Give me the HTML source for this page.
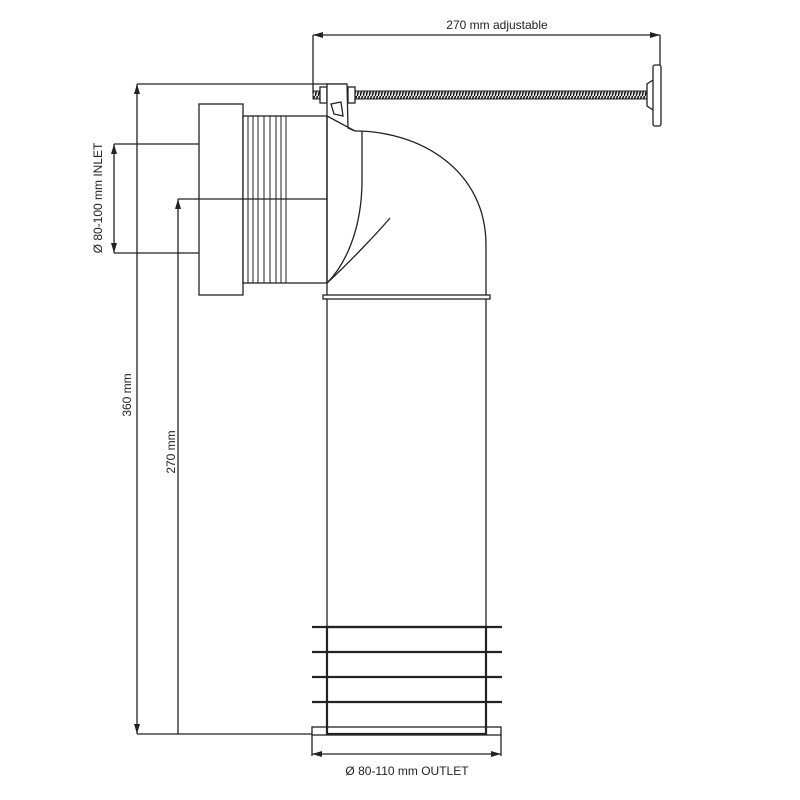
<!DOCTYPE html>
<html><head><meta charset="utf-8"><style>body{margin:0;background:#fff}svg{display:block}text{font-family:"Liberation Sans",sans-serif;font-size:12px;fill:#222}</style></head><body>
<svg width="800" height="800" viewBox="0 0 800 800" xmlns="http://www.w3.org/2000/svg">
<defs>
<pattern id="thr" width="3" height="8" patternUnits="userSpaceOnUse"><rect width="3" height="8" fill="#ddd"/><line x1="0" y1="8" x2="2.5" y2="0" stroke="#111" stroke-width="1.5"/></pattern>
<marker id="a" viewBox="0 0 10 6" refX="10" refY="3" markerWidth="10" markerHeight="6" orient="auto-start-reverse" markerUnits="userSpaceOnUse"><path d="M0,0 L10,3 L0,6z" fill="#222"/></marker>
</defs>
<g stroke="#222" stroke-width="1.3" fill="none">
<line x1="313" y1="35" x2="660" y2="35" marker-start="url(#a)" marker-end="url(#a)"/>
<line x1="313" y1="35" x2="313" y2="93"/>
<line x1="660" y1="35" x2="660" y2="66"/>
<rect x="313" y="91" width="340" height="8" fill="url(#thr)" stroke="#222" stroke-width="1"/>
<rect x="320" y="87" width="7" height="16" fill="#fff"/>
<rect x="348" y="87" width="7" height="16" fill="#fff"/>
<path d="M653,80 L647,84 L647,106 L653,110" fill="#fff"/>
<rect x="653" y="65" width="8" height="61" rx="2" fill="#fff"/>
<line x1="137" y1="84" x2="137" y2="734" marker-start="url(#a)" marker-end="url(#a)"/>
<line x1="137" y1="84" x2="347" y2="84"/>
<line x1="137" y1="734" x2="312" y2="734"/>
<line x1="114" y1="144" x2="114" y2="253" marker-start="url(#a)" marker-end="url(#a)"/>
<line x1="114" y1="144" x2="199" y2="144"/>
<line x1="114" y1="253" x2="199" y2="253"/>
<line x1="178" y1="199" x2="178" y2="734" marker-start="url(#a)"/>
<line x1="178" y1="199" x2="327" y2="199"/>
<path d="M327,84 L347,84 L348,128 L355,131 L327,116 Z" fill="#fff"/>
<path d="M331,104 L341,102 L343,116 L334,114 Z"/>
<rect x="199" y="104" width="44" height="191" fill="#fff"/>
<rect x="243" y="116" width="84" height="167" fill="#fff"/>
<g stroke-width="1">
<line x1="248" y1="116" x2="248" y2="283"/><line x1="253" y1="116" x2="253" y2="283"/><line x1="258" y1="116" x2="258" y2="283"/><line x1="264" y1="116" x2="264" y2="283"/><line x1="270" y1="116" x2="270" y2="283"/><line x1="276" y1="116" x2="276" y2="283"/><line x1="281" y1="116" x2="281" y2="283"/><line x1="286" y1="116" x2="286" y2="283"/>
</g>
<line x1="199" y1="199" x2="327" y2="199"/>
<path d="M355,131 C420,131 486,170 486,245 L486,297"/>
<path d="M362,131 L362,180 C362,230 345,265 327,283"/>
<path d="M327,283 C350,262 380,230 390,218"/>
<line x1="327" y1="116" x2="327" y2="627"/>
<line x1="486" y1="297" x2="486" y2="627"/>
<rect x="323" y="295" width="167" height="4" fill="#fff"/>
<g stroke-width="2.2">
<rect x="327" y="627" width="159" height="107"/>
<line x1="312" y1="627" x2="502" y2="627"/>
<line x1="312" y1="652" x2="502" y2="652"/>
<line x1="312" y1="677" x2="502" y2="677"/>
<line x1="312" y1="702" x2="502" y2="702"/>
</g>
<rect x="312" y="727" width="189" height="8"/>
<line x1="312" y1="735" x2="312" y2="756"/>
<line x1="501" y1="735" x2="501" y2="756"/>
<line x1="312" y1="754" x2="501" y2="754" marker-start="url(#a)" marker-end="url(#a)"/>
</g>
<text x="497" y="29" text-anchor="middle">270 mm adjustable</text>
<text x="407" y="775" text-anchor="middle">Ø 80-110 mm OUTLET</text>
<text transform="translate(102,198) rotate(-90)" text-anchor="middle">Ø 80-100 mm INLET</text>
<text transform="translate(131,395) rotate(-90)" text-anchor="middle" font-size="11">360 mm</text>
<text transform="translate(175,452) rotate(-90)" text-anchor="middle" font-size="11">270 mm</text>
</svg>
</body></html>
